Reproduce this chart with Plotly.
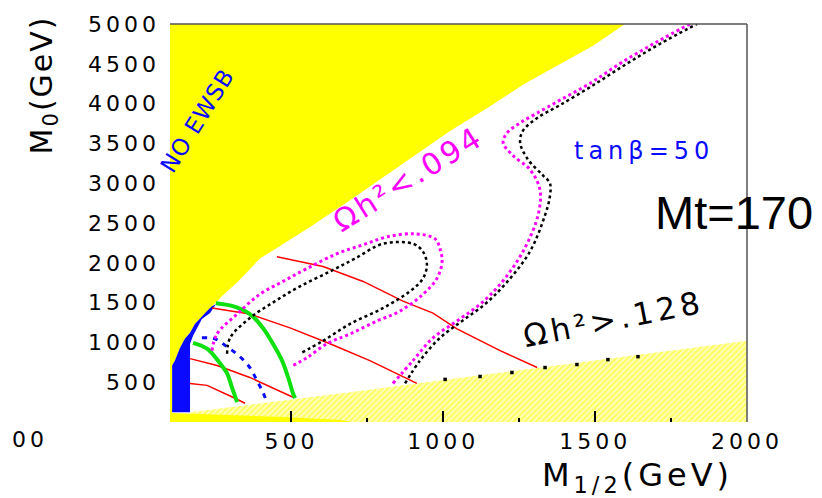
import plotly.graph_objects as go

# ---------------- data (M1/2 in GeV, M0 in GeV) ----------------
# region without electroweak symmetry breaking (top left)
noewsb_m12 = [100, 1598, 1493, 1269, 1154, 1022, 683, 551, 396, 324, 271, 238, 222,
              199, 182, 166, 149, 133, 123, 116, 107, 107, 100]
noewsb_m0 = [5000, 5000, 4727, 4254, 3968, 3657, 2762, 2426, 2053, 1766, 1580, 1455, 1393,
             1306, 1232, 1120, 1045, 933, 833, 771, 709, 0, 0]

# charged LSP region (hatched, bottom right)
stau_m12 = [166, 693, 1121, 2000, 2000, 166]
stau_m0 = [124, 373, 587, 1020, 0, 0]

# thin solid strip along the bottom
strip_m12 = [100, 100, 472, 660, 700]
strip_m0 = [0, 112, 62, 25, 0]

# excluded band at small M1/2
excl_m12 = [251, 238, 222, 199, 182, 166, 149, 133, 123, 116, 107, 107, 166, 166, 176, 189, 205, 232]
excl_m0 = [1480, 1455, 1393, 1306, 1232, 1120, 1045, 933, 833, 771, 709, 124, 124, 983, 1082, 1182, 1294, 1368]

# red contours
red1_m12 = [452, 604, 736, 867, 966, 1045, 1187, 1309]
red1_m0 = [2077, 1953, 1766, 1518, 1368, 1169, 896, 684]
red2_m12 = [238, 363, 495, 627, 758, 913]
red2_m0 = [1431, 1356, 1182, 983, 771, 485]
red3_m12 = [166, 255, 363, 505]
red3_m0 = [796, 709, 560, 311]
red4_m12 = [166, 222, 307, 347]
red4_m0 = [485, 460, 311, 236]

# green contours
green1_m12 = [251, 307, 363, 406, 439, 469, 489, 505, 512]
green1_m0 = [1493, 1455, 1356, 1182, 983, 771, 560, 361, 299]
green2_m12 = [176, 222, 258, 288, 304, 321]
green2_m0 = [995, 921, 771, 610, 435, 249]

# blue dashed contour
bdash_m12 = [205, 248, 288, 330, 363, 386, 406, 419]
bdash_m0 = [1057, 1045, 945, 821, 684, 522, 373, 249]

# relic density contours: Omega h^2 = 0.094 (magenta) and 0.128 (black)
om094a_m12 = [238, 255, 321, 396, 472, 551, 650, 736, 815, 907, 973, 989, 996, 979,
              933, 857, 782, 693, 617, 551, 505]
om094a_m0 = [896, 1107, 1356, 1605, 1766, 1928, 2115, 2227, 2326, 2364, 2301, 2177, 2015, 1804,
             1605, 1393, 1269, 1107, 983, 809, 709]
om128a_m12 = [288, 298, 363, 446, 528, 627, 709, 801, 900, 933, 946, 933, 890, 801, 693, 604, 528]
om128a_m0 = [858, 1057, 1306, 1518, 1704, 1891, 2053, 2239, 2239, 2140, 1978, 1804, 1642,
             1431, 1232, 1020, 858]

om094b_m12 = [834, 900, 966, 1045, 1121, 1187, 1262, 1312, 1318, 1285, 1230, 1197, 1210,
              1253, 1309, 1384, 1483, 1592, 1704, 1812]
om094b_m0 = [485, 771, 1057, 1269, 1480, 1729, 2140, 2600, 2923, 3172, 3346, 3508, 3632,
             3757, 3881, 4043, 4254, 4528, 4777, 5000]
om128b_m12 = [874, 923, 989, 1062, 1137, 1203, 1285, 1335, 1351, 1351, 1328, 1279, 1253,
              1262, 1309, 1384, 1493, 1605, 1714, 1835]
om128b_m0 = [485, 771, 1057, 1269, 1480, 1729, 2140, 2600, 2836, 3000, 3098, 3297, 3508,
             3657, 3819, 3981, 4230, 4503, 4752, 5000]

# sparse points along the edge of the hatched region
edge_m12 = [1006, 1121, 1226, 1335, 1440, 1542, 1641]
edge_m0 = [535, 572, 622, 684, 722, 784, 821]

y_ticks = [500, 1000, 1500, 2000, 2500, 3000, 3500, 4000, 4500, 5000]
x_ticks = [500, 1000, 1500, 2000]
x_minor = [750, 1250, 1750]

YELLOW = "#FFFF00"
BLUE = "#0A0AFF"
MAGENTA = "#FF00FF"
GREEN = "#10E010"
RED = "#FF0000"
FONT = "DejaVu Sans"


def spaced(text, ls):
    return f'<span style="letter-spacing:{ls}px">{text}</span>'


fig = go.Figure()

fig.add_trace(go.Scatter(x=stau_m12, y=stau_m0, mode="lines", fill="toself",
                         line=dict(width=0, color=YELLOW),
                         fillpattern=dict(shape="/", fgcolor=YELLOW, bgcolor="#FFFFC8",
                                          size=4, solidity=0.6)))
fig.add_trace(go.Scatter(x=strip_m12, y=strip_m0, mode="lines", fill="toself",
                         fillcolor=YELLOW, line=dict(width=0, color=YELLOW)))
fig.add_trace(go.Scatter(x=noewsb_m12, y=noewsb_m0, mode="lines", fill="toself",
                         fillcolor=YELLOW, line=dict(width=0, color=YELLOW)))
fig.add_trace(go.Scatter(x=excl_m12, y=excl_m0, mode="lines", fill="toself",
                         fillcolor=BLUE, line=dict(width=0, color=BLUE)))

for xs, ys in [(red1_m12, red1_m0), (red2_m12, red2_m0), (red3_m12, red3_m0), (red4_m12, red4_m0)]:
    fig.add_trace(go.Scatter(x=xs, y=ys, mode="lines", line=dict(color=RED, width=1.5)))

for xs, ys in [(green1_m12, green1_m0), (green2_m12, green2_m0)]:
    fig.add_trace(go.Scatter(x=xs, y=ys, mode="lines", line=dict(color=GREEN, width=4, shape="spline")))

fig.add_trace(go.Scatter(x=bdash_m12, y=bdash_m0, mode="lines",
                         line=dict(color=BLUE, width=3, dash="5px,6px", shape="spline")))

for xs, ys in [(om094a_m12, om094a_m0), (om094b_m12, om094b_m0)]:
    fig.add_trace(go.Scatter(x=xs, y=ys, mode="lines",
                             line=dict(color=MAGENTA, width=3, dash="dot", shape="spline")))
for xs, ys in [(om128a_m12, om128a_m0), (om128b_m12, om128b_m0)]:
    fig.add_trace(go.Scatter(x=xs, y=ys, mode="lines",
                             line=dict(color="black", width=2.5, dash="dot", shape="spline")))

fig.add_trace(go.Scatter(x=edge_m12, y=edge_m0, mode="markers",
                         marker=dict(color="black", size=3.5, symbol="square")))

# frame on top and right
fig.add_shape(type="line", xref="paper", yref="paper", x0=0, x1=1, y0=1, y1=1,
              line=dict(color="#555555", width=1.5))
fig.add_shape(type="line", xref="paper", yref="paper", x0=1, x1=1, y0=0, y1=1,
              line=dict(color="#555555", width=1.5))

ann = [
    dict(x=189, y=3782, text=spaced("NO EWSB", 1), textangle=-58,
         font=dict(family=FONT, size=23, color=BLUE)),
    dict(x=885, y=3060, text=spaced("Ωh²&lt;.094", 3), textangle=-32,
         font=dict(family=FONT, size=30, color=MAGENTA)),
    dict(x=1661, y=3409, text=spaced("tanβ=50", 5), textangle=0,
         font=dict(family=FONT, size=24, color=BLUE)),
    dict(x=1559, y=1294, text=spaced("Ωh²&gt;.128", 4), textangle=-11,
         font=dict(family=FONT, size=31, color="black")),
    dict(x=1957, y=2637, text="Mt=170", textangle=0,
         font=dict(family="Liberation Sans, Arial", size=47, color="black")),
]
for a in ann:
    fig.add_annotation(xref="x", yref="y", showarrow=False, xanchor="center", yanchor="middle", **a)

fig.add_annotation(xref="paper", yref="paper", x=(43 - 170) / 577, y=(422 - 82) / 402,
                   text=spaced("M<sub>0</sub>(GeV)", 2), textangle=-90, showarrow=False,
                   xanchor="center", yanchor="middle",
                   font=dict(family=FONT, size=30, color="black"))
fig.add_annotation(xref="paper", yref="paper", x=(637 - 170) / 577, y=(422 - 478) / 402,
                   text=spaced("M<sub>1/2</sub>(GeV)", 4), showarrow=False,
                   xanchor="center", yanchor="middle",
                   font=dict(family=FONT, size=32, color="black"))
fig.add_annotation(xref="paper", yref="paper", x=(50 - 170) / 577, y=(422 - 440) / 402,
                   text=spaced("00", 4), showarrow=False, xanchor="right", yanchor="middle",
                   font=dict(family=FONT, size=22, color="black"))

fig.update_layout(
    width=822, height=498,
    margin=dict(l=170, r=75, t=20, b=76),
    paper_bgcolor="white", plot_bgcolor="white",
    showlegend=False,
    xaxis=dict(range=[100, 2000], showgrid=False, zeroline=False, showline=False,
               tickvals=x_ticks, ticktext=[spaced(str(v), 4) for v in x_ticks],
               ticks="inside", ticklen=11, tickwidth=1.5, tickcolor="black",
               minor=dict(tickvals=x_minor, ticks="inside", ticklen=4, tickwidth=1.5,
                          tickcolor="black"),
               tickfont=dict(family=FONT, size=22, color="black"),
               ticklabelstandoff=4),
    yaxis=dict(range=[0, 5000], showgrid=False, zeroline=False, showline=False,
               tickvals=y_ticks, ticktext=[spaced(str(v), 4) for v in y_ticks],
               ticks="", tickfont=dict(family=FONT, size=22, color="black"),
               ticklabelstandoff=9),
)

fig.write_html("out.html")
